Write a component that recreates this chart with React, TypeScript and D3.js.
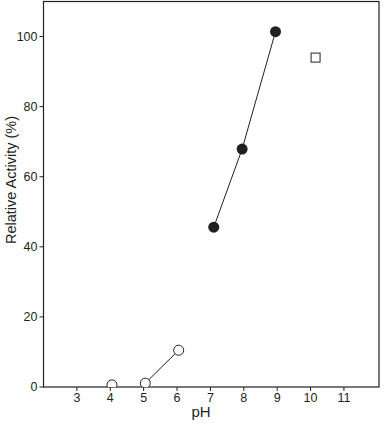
import React from "react";
import * as d3 from "d3";

const openX = [4.05, 5.05, 6.05];
const openY = [0.6, 1.1, 10.5];
const filledX = [7.1, 7.95, 8.95];
const filledY = [45.6, 67.9, 101.4];
const squareX = [10.15];
const squareY = [94.0];
const xTicks = [3, 4, 5, 6, 7, 8, 9, 10, 11];
const yTicks = [0, 20, 40, 60, 80, 100];

const W = 384, H = 426;
const L = 43.5, R = 379, T = 1.5, B = 387;

export default function App() {
  const x = d3.scaleLinear().domain([2.0, 12.05]).range([L, R]);
  const y = d3.scaleLinear().domain([0, 110]).range([B, T]);
  const line = d3.line<[number, number]>().x(d => x(d[0])).y(d => y(d[1]));
  const openPts: [number, number][] = openX.map((v, i) => [v, openY[i]]);
  const filledPts: [number, number][] = filledX.map((v, i) => [v, filledY[i]]);
  const font = "'Liberation Sans', Arial, sans-serif";
  return (
    <svg width={W} height={H} style={{ position: "absolute", left: 0, top: 0, background: "#fff" }}>
      <defs>
        <clipPath id="plot">
          <rect x={L} y={T} width={R - L} height={B - T} />
        </clipPath>
      </defs>
      <rect x={L} y={T} width={R - L} height={B - T} fill="none" stroke="#231f20" strokeWidth={1.2} />
      {yTicks.map(t => (
        <g key={t}>
          <line x1={L - 4} x2={L} y1={y(t)} y2={y(t)} stroke="#231f20" strokeWidth={1} />
          <text x={L - 6} y={y(t)} dy="0.35em" textAnchor="end" fontSize={12.5} fontFamily={font} fill="#231f20">{t}</text>
        </g>
      ))}
      {xTicks.map(t => (
        <g key={t}>
          <line x1={x(t)} x2={x(t)} y1={B} y2={B + 4} stroke="#231f20" strokeWidth={1} />
          <text x={x(t)} y={401.5} textAnchor="middle" fontSize={12.5} fontFamily={font} fill="#231f20">{t}</text>
        </g>
      ))}
      <text x={201} y={417} textAnchor="middle" fontSize={15} fontFamily={font} fill="#231f20">pH</text>
      <text transform={`translate(16,180) rotate(-90)`} textAnchor="middle" fontSize={14.5} fontFamily={font} fill="#231f20">Relative Activity (%)</text>
      <g clipPath="url(#plot)">
        <path d={line(openPts.slice(1)) || ""} fill="none" stroke="#231f20" strokeWidth={1} />
        <path d={line(filledPts) || ""} fill="none" stroke="#231f20" strokeWidth={1} />
        {openPts.map((p, i) => (
          <circle key={i} cx={x(p[0])} cy={y(p[1])} r={5} fill="#fff" stroke="#231f20" strokeWidth={1} />
        ))}
        {filledPts.map((p, i) => (
          <circle key={i} cx={x(p[0])} cy={y(p[1])} r={5.5} fill="#231f20" />
        ))}
        {squareX.map((v, i) => (
          <rect key={i} x={x(v) - 4.5} y={y(squareY[i]) - 4.5} width={9} height={9} fill="#fff" stroke="#231f20" strokeWidth={1} />
        ))}
      </g>
    </svg>
  );
}
